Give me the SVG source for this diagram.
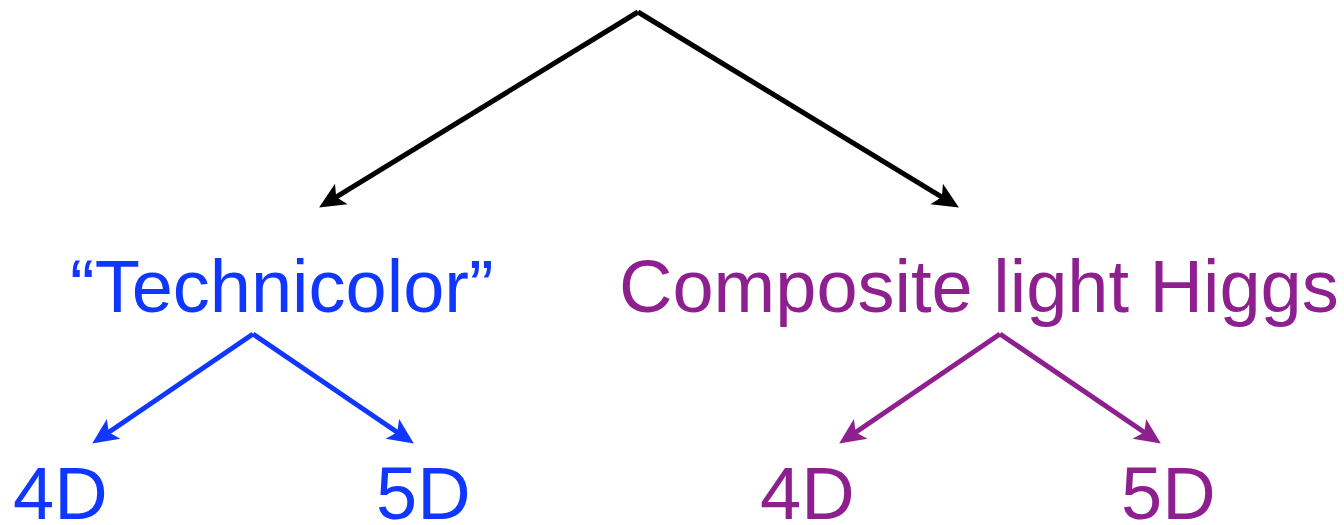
<svg xmlns="http://www.w3.org/2000/svg" width="1344" height="525" viewBox="0 0 1344 525">
<style>
  .lbl { font-family: "Liberation Sans", Arial, sans-serif; font-size: 74px; }
  .blue { fill: #0F37FF; }
  .purple { fill: #8E1F8F; }
  .c { fill: none; stroke-width: 5; stroke-linecap: butt; }
  .k { stroke: #000000; }
  .b { stroke: #0F37FF; }
  .p { stroke: #8E1F8F; }
</style>
<defs>
  <marker id="ak" markerUnits="userSpaceOnUse" markerWidth="40" markerHeight="40" refX="0" refY="0" orient="auto" overflow="visible">
    <path d="M17,0 L-9,-12 L-3,0 L-9,12 Z" fill="#000000"/>
  </marker>
  <marker id="ab" markerUnits="userSpaceOnUse" markerWidth="40" markerHeight="40" refX="0" refY="0" orient="auto" overflow="visible">
    <path d="M17,0 L-9,-12 L-3,0 L-9,12 Z" fill="#0F37FF"/>
  </marker>
  <marker id="ap" markerUnits="userSpaceOnUse" markerWidth="40" markerHeight="40" refX="0" refY="0" orient="auto" overflow="visible">
    <path d="M17,0 L-9,-12 L-3,0 L-9,12 Z" fill="#8E1F8F"/>
  </marker>
</defs>
<g id="connectors">
  <path class="c k" d="M638,12 L333.6,198.6" marker-end="url(#ak)"/>
  <path class="c k" d="M638,12 L944.4,198.6" marker-end="url(#ak)"/>
  <path class="c b" d="M253,334 L106.2,434" marker-end="url(#ab)"/>
  <path class="c b" d="M253,334 L399.8,434" marker-end="url(#ab)"/>
  <path class="c p" d="M1000,334 L853.2,434" marker-end="url(#ap)"/>
  <path class="c p" d="M1000,334 L1146.8,434" marker-end="url(#ap)"/>
</g>
<g id="technicolor"><text class="lbl blue" x="70" y="312">“Technicolor”</text></g>
<g id="composite"><text class="lbl purple" x="619" y="312">Composite light Higgs</text></g>
<g id="tc-4d"><text class="lbl blue" x="13" y="519">4D</text></g>
<g id="tc-5d"><text class="lbl blue" x="376" y="519">5D</text></g>
<g id="ch-4d"><text class="lbl purple" x="760" y="519">4D</text></g>
<g id="ch-5d"><text class="lbl purple" x="1121" y="519">5D</text></g>
</svg>
